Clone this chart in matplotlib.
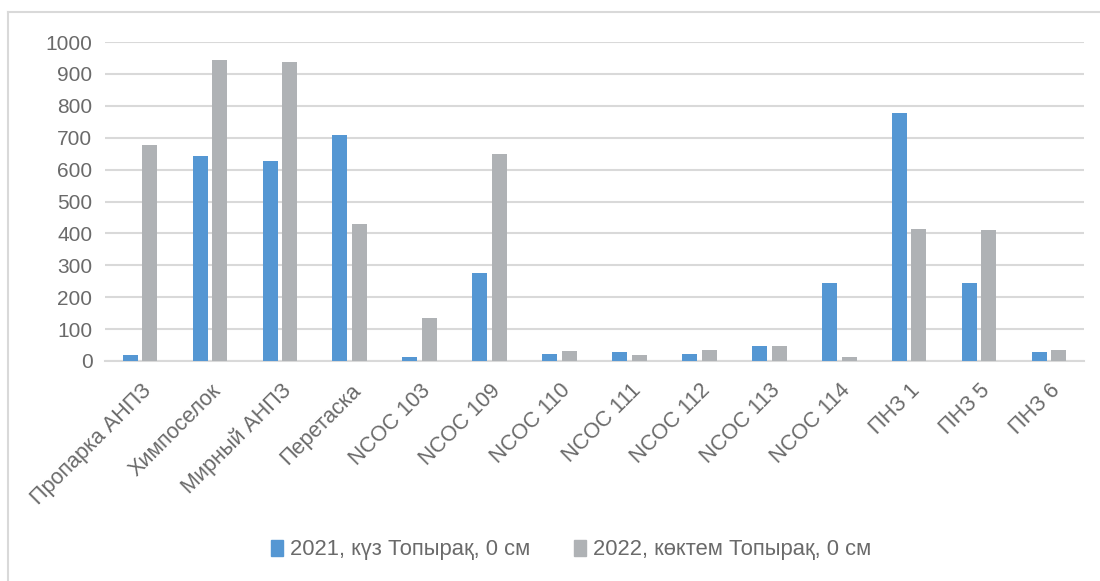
import numpy as np
import matplotlib.pyplot as plt
import matplotlib.transforms as mtransforms
from matplotlib.patches import Patch
from matplotlib.lines import Line2D

plt.rcParams['font.family'] = ['Liberation Sans', 'DejaVu Sans']

sites = ['Пропарка АНПЗ', 'Химпоселок', 'Мирный АНПЗ', 'Перетаска', 'NCOC 103', 'NCOC 109',
         'NCOC 110', 'NCOC 111', 'NCOC 112', 'NCOC 113', 'NCOC 114', 'ПНЗ 1', 'ПНЗ 5', 'ПНЗ 6']
autumn_2021 = [20, 642, 626, 708, 14, 277, 23, 27, 21, 48, 246, 777, 246, 28]
spring_2022 = [676, 943, 937, 430, 135, 650, 30, 19, 35, 48, 14, 413, 411, 35]
series_names = ['2021, күз Топырақ, 0 см', '2022, көктем Топырақ, 0 см']
yticks = list(range(0, 1001, 100))

blue = '#5597d3'
grey = '#afb2b5'
grid_c = '#d9d9d9'
txt_c = '#6a6a6a'

W, H = 1100, 581
fig = plt.figure(figsize=(W / 100, H / 100), dpi=100)

# chart frame (only left and top edges are inside the canvas)
fig.add_artist(Line2D([8 / W, 8 / W], [0, 1 - 12 / H], color=grid_c, lw=1.5))
fig.add_artist(Line2D([8 / W, 1], [1 - 12 / H, 1 - 12 / H], color=grid_c, lw=1.5))

ax = fig.add_axes([105 / W, 1 - 361 / H, 979 / W, (361 - 42) / H])

x = np.arange(len(sites))
bw = 0.215
off = 0.14
ax.bar(x - off, autumn_2021, bw, color=blue, zorder=3)
ax.bar(x + off, spring_2022, bw, color=grey, zorder=3)

ax.set_xlim(-0.5, len(sites) - 0.5)
ax.set_ylim(0, 1000)
ax.set_yticks(yticks)
ax.set_yticklabels([str(v) for v in yticks], fontsize=15, color=txt_c)
ax.yaxis.grid(True, color=grid_c, lw=1.5, zorder=0)
ax.set_axisbelow(True)

ax.set_xticks(x)
ax.set_xticklabels(sites, rotation=45, ha='right', va='center', rotation_mode='anchor',
                   fontsize=15.5, color=txt_c)
ax.tick_params(axis='x', length=0, pad=19)
ax.tick_params(axis='y', length=0, pad=9)

# nudge the slanted labels so their ends sit just right of the bar pairs
shift = mtransforms.ScaledTranslation(8 / 100, 0, fig.dpi_scale_trans)
for lbl in ax.get_xticklabels():
    lbl.set_transform(lbl.get_transform() + shift)

for s in ['top', 'right', 'left']:
    ax.spines[s].set_visible(False)
ax.spines['bottom'].set_color(grid_c)
ax.spines['bottom'].set_linewidth(1.5)

handles = [Patch(color=blue), Patch(color=grey)]
fig.legend(handles, series_names, loc='center', bbox_to_anchor=(571 / W, 1 - 550 / H),
           ncol=2, frameon=False, fontsize=15.8, labelcolor=txt_c,
           handlelength=0.55, handleheight=0.75, handletextpad=0.3, columnspacing=2.0)

fig.savefig('out.png', dpi=100)
